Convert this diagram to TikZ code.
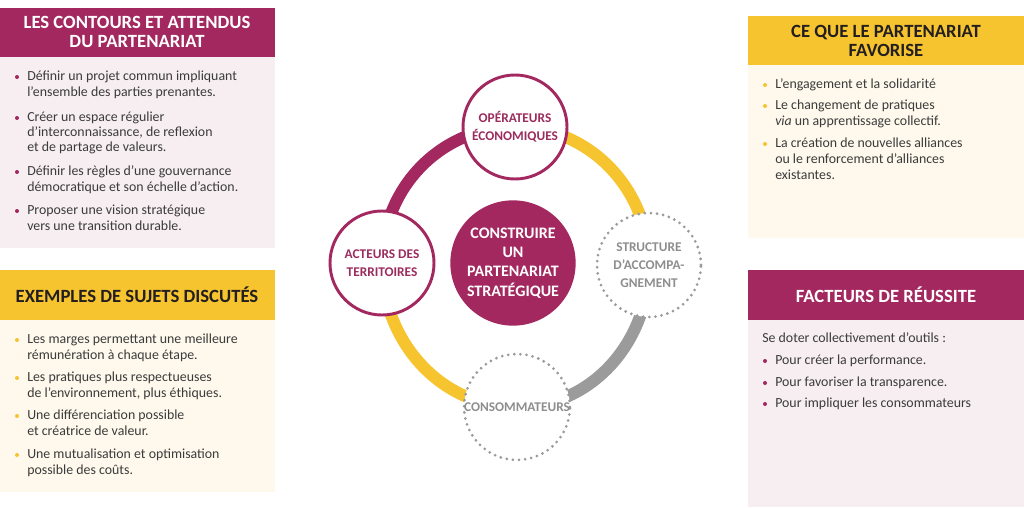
\documentclass[tikz,border=0pt]{standalone}
\usepackage{fontspec}
\setmainfont{Carlito}
\usetikzlibrary{backgrounds}
\definecolor{mag}{HTML}{A3285F}
\definecolor{magtxt}{HTML}{9B2C5E}
\definecolor{yel}{HTML}{F6C42F}
\definecolor{pinkbg}{HTML}{F7EEF2}
\definecolor{creambg}{HTML}{FEF9EC}
\definecolor{gry}{HTML}{9B9B9B}
\definecolor{gtxt}{HTML}{8E8E8E}
\definecolor{txt}{HTML}{3B3B3B}
\definecolor{dark}{HTML}{231F20}
\begin{document}
\begin{tikzpicture}[x=0.75pt,y=0.75pt,
  head/.style={font=\bfseries\fontsize{14}{14}\selectfont, align=center, inner sep=0},
  line/.style={anchor=base west, inner sep=0, font=\fontsize{10.4}{12}\selectfont, text=txt},
  bul/.style={circle, inner sep=0, minimum size=3pt},
  actor/.style={circle, draw=mag, line width=2.2pt, fill=white, minimum size=78pt, inner sep=0, align=center, font=\bfseries\fontsize{10}{13.5}\selectfont, text=magtxt},
  dactor/.style={circle, draw=gry, line width=2.3pt, dash pattern=on 0pt off 4.6pt, line cap=round, fill=white, minimum size=78pt, inner sep=0, align=center, font=\bfseries\fontsize{10}{13.5}\selectfont, text=gtxt},
  ring/.style={line width=9pt}
]
\useasboundingbox (0,0) rectangle (1024,-507);

% ---------- boxes ----------
\fill[pinkbg] (0,-57) rectangle (275,-248);
\fill[mag] (0,-8) rectangle (275,-57);
\node[head, text=white] (hLT) at (137,-32) {LES CONTOURS ET ATTENDUS\\DU PARTENARIAT};

\fill[creambg] (0,-320) rectangle (275,-492);
\fill[yel] (0,-270) rectangle (275,-320);
\node[head, text=dark] (hLB) at (137,-295) {EXEMPLES DE SUJETS DISCUTÉS};

\fill[creambg] (748,-65) rectangle (1024,-238);
\fill[yel] (748,-16) rectangle (1024,-65);
\node[head, text=dark] (hRT) at (886,-41) {CE QUE LE PARTENARIAT\\FAVORISE};

\fill[pinkbg] (748,-320) rectangle (1024,-507);
\fill[mag] (748,-270) rectangle (1024,-320);
\node[head, text=white] (hRB) at (886,-295) {FACTEURS DE RÉUSSITE};

% ---------- texts ----------
\foreach \y/\t/\b in {
  77/{Définir un projet commun impliquant}/1,
  93/{l'ensemble des parties prenantes.}/0,
  118/{Créer un espace régulier}/1,
  133/{d'interconnaissance, de reflexion}/0,
  148/{et de partage de valeurs.}/0,
  172/{Définir les règles d'une gouvernance}/1,
  188/{démocratique et son échelle d'action.}/0,
  211/{Proposer une vision stratégique}/1,
  227/{vers une transition durable.}/0}{
  \node[line] (lt\y) at (27,-\y-3.5) {\t};
  \ifnum\b=1 \node[bul, fill=mag] (ltb\y) at (17,-\y) {}; \fi
}
\foreach \y/\t/\b in {
  340/{Les marges permettant une meilleure}/1,
  356/{rémunération à chaque étape.}/0,
  378/{Les pratiques plus respectueuses}/1,
  394/{de l'environnement, plus éthiques.}/0,
  416/{Une différenciation possible}/1,
  432/{et créatrice de valeur.}/0,
  455/{Une mutualisation et optimisation}/1,
  471/{possible des coûts.}/0}{
  \node[line] (lb\y) at (27,-\y-3.5) {\t};
  \ifnum\b=1 \node[bul, fill=yel] (lbb\y) at (17,-\y) {}; \fi
}
\foreach \y/\t/\b in {
  85/{L'engagement et la solidarité}/1,
  106/{Le changement de pratiques}/1,
  122/{\textit{via} un apprentissage collectif.}/0,
  144/{La création de nouvelles alliances}/1,
  160/{ou le renforcement d'alliances}/0,
  176/{existantes.}/0}{
  \node[line] (rt\y) at (775,-\y-3.5) {\t};
  \ifnum\b=1 \node[bul, fill=yel] (rtb\y) at (765,-\y) {}; \fi
}
\node[line] (rb339) at (762,-339-3.5) {Se doter collectivement d'outils :};
\foreach \y/\t in {
  361/{Pour créer la performance.},
  383/{Pour favoriser la transparence.},
  404/{Pour impliquer les consommateurs}}{
  \node[line] (rb\y) at (775,-\y-3.5) {\t};
  \node[bul, fill=mag] (rbb\y) at (765,-\y) {};
}

% ---------- cycle ----------
\node[actor] (op) at (515,-127) {OPÉRATEURS\\ÉCONOMIQUES};
\node[actor] (ac) at (382,-263) {ACTEURS DES\\TERRITOIRES};
\node[dactor] (st) at (649,-265) {STRUCTURE\\D'ACCOMPA-\\GNEMENT};
\node[dactor] (co) at (517,-407) {CONSOMMATEURS};
\node[circle, fill=mag, minimum size=94pt, inner sep=0, align=center, text=white,
      font=\bfseries\fontsize{12}{14.5}\selectfont] (ce) at (513,-263)
      {CONSTRUIRE\\UN\\PARTENARIAT\\STRATÉGIQUE};

\begin{scope}[on background layer]
  \draw[ring, mag] (op.center) to[out=180, in=90] (ac.center);
  \draw[ring, yel] (op.center) to[out=0, in=90] (st.center);
  \draw[ring, gry] (st.center) to[out=-90, in=0] (co.center);
  \draw[ring, yel] (ac.center) to[out=-90, in=180] (co.center);
\end{scope}
\end{tikzpicture}
\end{document}
